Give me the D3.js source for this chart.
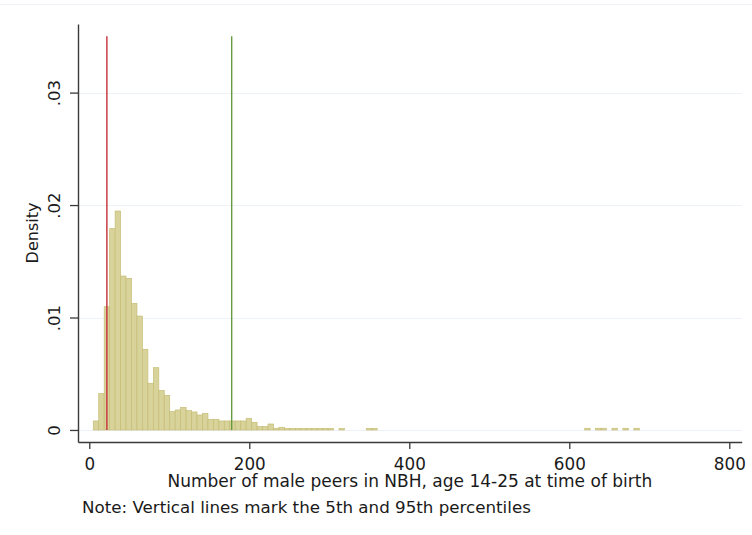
<!DOCTYPE html>
<html>
<head>
<meta charset="utf-8">
<script src="https://cdn.jsdelivr.net/npm/d3@7"></script>
<style>
  html, body { margin: 0; padding: 0; background: #ffffff; }
  svg { display: block; }
  text { font-family: "DejaVu Sans", sans-serif; fill: #1a1a1a; }
</style>
</head>
<body>
<script>
// Histogram of peer counts: 100 equal-width bins starting at binStart
const binStart = 5;
const binWidth = 6.825;
const densities = [
  0.0008, 0.00323, 0.01096, 0.0179, 0.01947, 0.01369, 0.01348, 0.01126, 0.01013, 0.00717,
  0.00415, 0.00554, 0.0035, 0.00308, 0.00163, 0.00178, 0.00199, 0.00172, 0.0016, 0.00133,
  0.00148, 0.00095, 0.00095, 0.0008, 0.0008, 0.0008, 0.0008, 0.0008, 0.00104, 0.00068,
  0.0003, 0.0003, 0.00053, 0.00015, 0.00024, 0.00012, 0.00012, 0.00012, 0.00012, 0.00012,
  0.00012, 0.00012, 0.00012, 0.00012, 0, 0.00012, 0, 0, 0, 0,
  0.00012, 0.00012, 0, 0, 0, 0, 0, 0, 0, 0,
  0, 0, 0, 0, 0, 0, 0, 0, 0, 0,
  0, 0, 0, 0, 0, 0, 0, 0, 0, 0,
  0, 0, 0, 0, 0, 0, 0, 0, 0, 0,
  0.00015, 0, 0.00015, 0.00015, 0, 0.00015, 0, 0.00015, 0, 0.00015
];

// 5th and 95th percentiles
const percentiles = [22, 178];
const percentileColors = ["#c22f38", "#689b3f"];
const percentileLineTop = 0.035;

const xTicks = [0, 200, 400, 600, 800];
const yTicks = [0, 0.01, 0.02, 0.03];
const yTickLabels = ["0", ".01", ".02", ".03"];
const xTitle = "Number of male peers in NBH, age 14-25 at time of birth";
const yTitle = "Density";
const note = "Note: Vertical lines mark the 5th and 95th percentiles";

const W = 752, H = 535;
const plot = { left: 78, right: 741.7, top: 24, bottom: 442 };

const svg = d3.select("body").append("svg")
  .attr("width", W).attr("height", H);

// thin frame line across the top of the graph region
svg.append("line")
  .attr("x1", 0).attr("x2", W).attr("y1", 4.5).attr("y2", 4.5)
  .attr("stroke", "#eef1f5").attr("stroke-width", 1);

const x = d3.scaleLinear().domain([-14.1, 815.5]).range([plot.left, plot.right]);
const y = d3.scaleLinear().domain([-0.00107, 0.0361]).range([plot.bottom, plot.top]);

// horizontal gridlines
svg.append("g").selectAll("line").data(yTicks).join("line")
  .attr("x1", plot.left + 1).attr("x2", plot.right)
  .attr("y1", d => Math.round(y(d)) + 0.5).attr("y2", d => Math.round(y(d)) + 0.5)
  .attr("stroke", "#edf1f8").attr("stroke-width", 1);

// bars
const bins = densities.map((d, i) => ({
  x0: binStart + i * binWidth,
  x1: binStart + (i + 1) * binWidth,
  d
})).filter(b => b.d > 0);

svg.append("g").selectAll("rect").data(bins).join("rect")
  .attr("x", b => x(b.x0))
  .attr("width", b => x(b.x1) - x(b.x0))
  .attr("y", b => y(b.d))
  .attr("height", b => y(0) - y(b.d))
  .attr("fill", "#d8d29b")
  .attr("stroke", "#c6bd75")
  .attr("stroke-width", 0.7);

// percentile lines, drawn on top of the bars
svg.append("g").selectAll("line").data(percentiles).join("line")
  .attr("x1", d => x(d)).attr("x2", d => x(d))
  .attr("y1", y(0)).attr("y2", y(percentileLineTop))
  .attr("stroke", (d, i) => percentileColors[i])
  .attr("stroke-width", 1.4);

// x axis
const xAxis = svg.append("g")
  .attr("transform", `translate(0,${plot.bottom})`)
  .call(d3.axisBottom(x).tickValues(xTicks).tickSize(7).tickSizeOuter(0));
xAxis.select(".domain").attr("stroke", "#3a3a3a").attr("stroke-width", 1.6);
xAxis.selectAll(".tick line").attr("stroke", "#3a3a3a").attr("stroke-width", 1.3);
xAxis.selectAll(".tick text")
  .attr("font-family", "DejaVu Sans, sans-serif").attr("font-size", 16.8)
  .attr("fill", "#1a1a1a").attr("dy", null).attr("y", 27.5);

// y axis
const yAxis = svg.append("g")
  .attr("transform", `translate(${plot.left},0)`)
  .call(d3.axisLeft(y).tickValues(yTicks).tickSize(8).tickSizeOuter(0)
    .tickFormat((d, i) => yTickLabels[i]));
yAxis.select(".domain").attr("stroke", "#3a3a3a").attr("stroke-width", 1.4);
yAxis.selectAll(".tick line").attr("stroke", "#3a3a3a").attr("stroke-width", 1.3);
yAxis.selectAll(".tick text").remove();
yAxis.selectAll(".tick").append("text")
  .attr("transform", "translate(-18,0) rotate(-90)")
  .attr("text-anchor", "middle")
  .attr("font-family", "DejaVu Sans, sans-serif").attr("font-size", 16.5)
  .attr("fill", "#1a1a1a")
  .text((d, i) => yTickLabels[i]);

// axis titles
svg.append("text")
  .attr("x", (plot.left + plot.right) / 2).attr("y", 487)
  .attr("text-anchor", "middle").attr("font-size", 17)
  .text(xTitle);

svg.append("text")
  .attr("transform", `translate(37.5,${(plot.top + plot.bottom) / 2}) rotate(-90)`)
  .attr("text-anchor", "middle").attr("font-size", 16)
  .text(yTitle);

// note
svg.append("text")
  .attr("x", 82).attr("y", 512.5)
  .attr("font-size", 16.7)
  .text(note);
</script>
</body>
</html>
